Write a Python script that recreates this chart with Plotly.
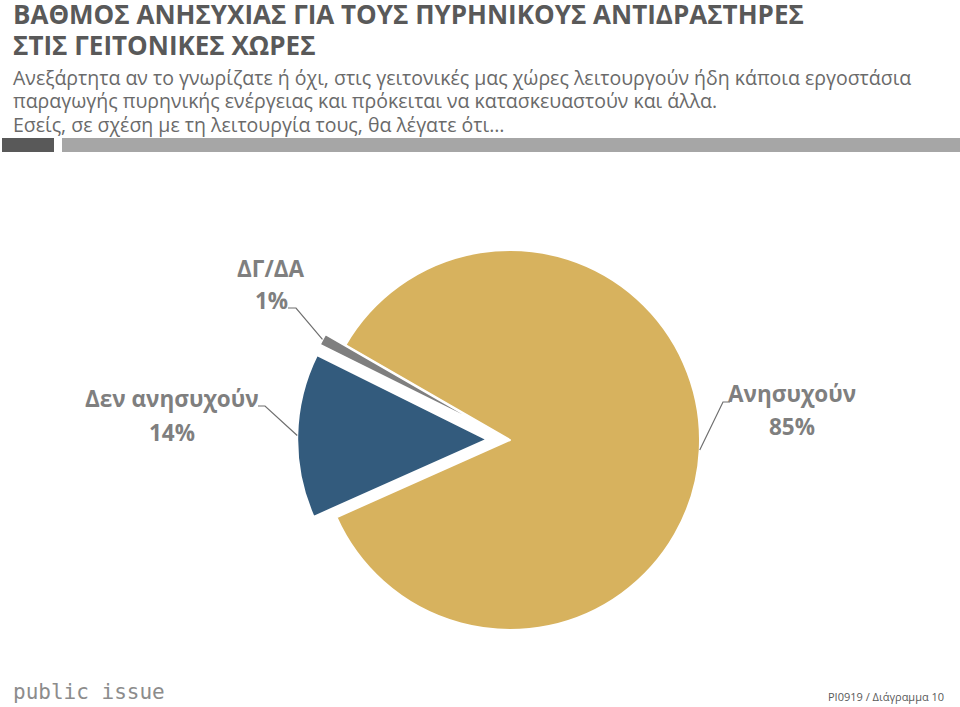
import math
import plotly.graph_objects as go

# ---------------- data ----------------
labels = ["Ανησυχούν", "Δεν ανησυχούν", "ΔΓ/ΔΑ"]
values = [85, 14, 1]
pct_text = ["85%", "14%", "1%"]
colors = ["#D7B25E", "#335B7D", "#7F7F7F"]
pulls = [0.0, 0.12, 0.12]

title_lines = ["ΒΑΘΜΟΣ ΑΝΗΣΥΧΙΑΣ ΓΙΑ ΤΟΥΣ ΠΥΡΗΝΙΚΟΥΣ ΑΝΤΙΔΡΑΣΤΗΡΕΣ",
               "ΣΤΙΣ ΓΕΙΤΟΝΙΚΕΣ ΧΩΡΕΣ"]
subtitle_lines = [
    "Ανεξάρτητα αν το γνωρίζατε ή όχι, στις γειτονικές μας χώρες λειτουργούν ήδη κάποια εργοστάσια",
    "παραγωγής πυρηνικής ενέργειας και πρόκειται να κατασκευαστούν και άλλα.",
    "Εσείς, σε σχέση με τη λειτουργία τους, θα λέγατε ότι…",
]
footer_logo = "public issue"
footer_ref = "PI0919 / Διάγραμμα 10"

# ---------------- layout constants (pixels) ----------------
W, H = 960, 707
CX, CY, R = 510, 440, 190
ROTATION = -60
FONT = "Open Sans, Noto Sans, sans-serif"

def px(x):
    return x / W

def py(y):
    return 1 - y / H

max_pull = max(pulls)
half = R * (1 + max_pull)

fig = go.Figure()
fig.add_trace(go.Pie(
    labels=labels, values=values, sort=False, direction="clockwise",
    rotation=ROTATION, pull=pulls, textinfo="none",
    marker=dict(colors=colors, line=dict(color="white", width=2)),
    hovertemplate="%{label}: %{value}%<extra></extra>",
    showlegend=False,
    domain=dict(x=[px(CX - half), px(CX + half)], y=[py(CY + half), py(CY - half)]),
))

annotations = []
shapes = []

# titles
for i, t in enumerate(title_lines):
    annotations.append(dict(x=px(11), y=py(14 + 31 * i), xref="paper", yref="paper",
                            xanchor="left", yanchor="middle", showarrow=False, text="<b>" + t + "</b>",
                            font=dict(family=FONT, size=26, color="#595959")))
for i, t in enumerate(subtitle_lines):
    annotations.append(dict(x=px(11), y=py(77.5 + 23.5 * i), xref="paper", yref="paper",
                            xanchor="left", yanchor="middle", showarrow=False, text=t,
                            font=dict(family=FONT, size=19.5, color="#6A6A6A")))

# bars under the title
shapes.append(dict(type="rect", xref="paper", yref="paper", x0=px(2), x1=px(54), y0=py(152), y1=py(138),
                   fillcolor="#595959", line=dict(width=0)))
shapes.append(dict(type="rect", xref="paper", yref="paper", x0=px(62), x1=px(960), y0=py(152), y1=py(138),
                   fillcolor="#A6A6A6", line=dict(width=0)))

# label placement (name center, percent center, leader start, elbow)
label_layout = [
    dict(name=(792, 393.5), pct=(792, 426), start=(730, 402), elbow=(723, 402)),
    dict(name=(172, 399), pct=(172, 432.5), start=(258, 406), elbow=(265, 406)),
    dict(name=(270.5, 269), pct=(271, 300.5), start=(288, 308), elbow=(296, 308)),
]

total = sum(values)
cum = 0
for i, v in enumerate(values):
    mid = math.radians(ROTATION + 360 * (cum + v / 2) / total)
    cum += v
    off = pulls[i] * R
    ex = CX + (R + off) * math.sin(mid)
    ey = CY - (R + off) * math.cos(mid)
    L = label_layout[i]
    annotations.append(dict(x=px(L["name"][0]), y=py(L["name"][1]), xref="paper", yref="paper",
                            xanchor="center", yanchor="middle", showarrow=False,
                            text="<b>" + labels[i] + "</b>",
                            font=dict(family=FONT, size=22.5, color="#7F7F7F")))
    annotations.append(dict(x=px(L["pct"][0]), y=py(L["pct"][1]), xref="paper", yref="paper",
                            xanchor="center", yanchor="middle", showarrow=False,
                            text="<b>" + pct_text[i] + "</b>",
                            font=dict(family=FONT, size=22.5, color="#7F7F7F")))
    path = "M {} {} L {} {} L {} {}".format(px(L["start"][0]), py(L["start"][1]),
                                            px(L["elbow"][0]), py(L["elbow"][1]),
                                            px(ex), py(ey))
    shapes.append(dict(type="path", xref="paper", yref="paper", path=path,
                       line=dict(color="#6F6F6F", width=1.2)))

# footer
annotations.append(dict(x=px(11), y=py(692), xref="paper", yref="paper", xanchor="left", yanchor="middle",
                        showarrow=False, text=footer_logo,
                        font=dict(family="DejaVu Sans Mono, monospace", size=21, color="#8C8C8C")))
annotations.append(dict(x=px(946), y=py(696), xref="paper", yref="paper", xanchor="right", yanchor="middle",
                        showarrow=False, text=footer_ref,
                        font=dict(family=FONT, size=11, color="#595959")))

fig.update_layout(
    width=W, height=H, margin=dict(l=0, r=0, t=0, b=0),
    paper_bgcolor="white", plot_bgcolor="white",
    annotations=annotations, shapes=shapes,
)

fig.write_html("out.html", config={"displayModeBar": False},
               post_script="document.body.style.margin='0px';document.body.style.overflow='hidden';")
